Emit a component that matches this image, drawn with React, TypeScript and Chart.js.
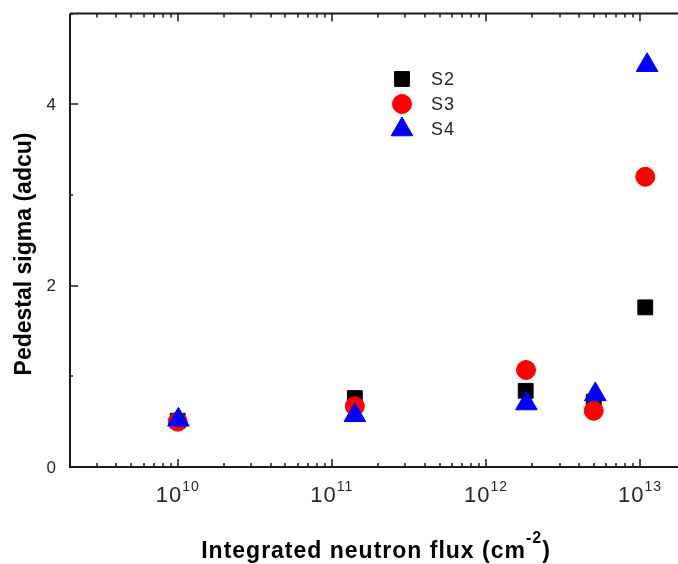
import React, { useEffect, useRef } from 'react';
import { Chart, registerables } from 'chart.js';
import { drawPoint } from 'chart.js/helpers';

Chart.register(...registerables);

// ---- data ----
const seriesNames = ['S2', 'S3', 'S4'];
const fluxS2 = [1.0e10, 1.41e11, 1.81e12, 5.0e12, 1.08e13];
const sigmaS2 = [0.51, 0.76, 0.84, 0.72, 1.76];
const fluxS3 = [1.0e10, 1.41e11, 1.82e12, 5.0e12, 1.08e13];
const sigmaS3 = [0.5, 0.67, 1.07, 0.62, 3.2];
const fluxS4 = [1.01e10, 1.41e11, 1.83e12, 5.12e12, 1.11e13];
const sigmaS4 = [0.52, 0.57, 0.7, 0.8, 4.43];

const xMajorExponents = [10, 11, 12, 13];
const xDecades = [9, 10, 11, 12, 13];
const xMinorMultipliers = [2, 3, 4, 5, 6, 7, 8, 9];
const yMajorTicks = [0, 2, 4];
const yMinorTicks = [1, 3, 5];

const xTitle = 'Integrated neutron flux (cm';
const xTitleSup = '-2';
const yTitle = 'Pedestal sigma (adcu)';

const colors = ['#000000', '#ff0000', '#0000ff'];
const styles = ['rect', 'circle', 'triangle'];
const radii = [10.5, 9.5, 12.5];

const AXIS = '#1a1a1a';
const TEXT = '#262626';
const FONT = '"Liberation Sans", Arial, sans-serif';

const framePlugin = {
  id: 'frame',
  beforeDatasetsDraw(chart: any) {
    const { ctx, chartArea: a, scales } = chart;
    const xs = scales.x;
    const ys = scales.y;
    ctx.save();
    ctx.strokeStyle = AXIS;
    ctx.lineWidth = 2;
    ctx.beginPath();
    ctx.moveTo(a.left, a.top);
    ctx.lineTo(a.left, a.bottom);
    ctx.lineTo(a.right, a.bottom);
    ctx.moveTo(a.left, a.top);
    ctx.lineTo(a.right, a.top);
    ctx.stroke();

    ctx.lineWidth = 1.5;
    ctx.beginPath();
    for (const e of xDecades) {
      const vals = [{ v: Math.pow(10, e), major: true }, ...xMinorMultipliers.map((m) => ({ v: m * Math.pow(10, e), major: false }))];
      for (const { v, major } of vals) {
        if (v <= xs.min || v >= xs.max) continue;
        const px = Math.round(xs.getPixelForValue(v));
        const len = major ? 8 : 4;
        ctx.moveTo(px, a.bottom);
        ctx.lineTo(px, a.bottom - len);
        ctx.moveTo(px, a.top);
        ctx.lineTo(px, a.top + len);
      }
    }
    for (const v of yMajorTicks) {
      const py = Math.round(ys.getPixelForValue(v));
      ctx.moveTo(a.left, py);
      ctx.lineTo(a.left + 8, py);
    }
    for (const v of yMinorTicks) {
      const py = Math.round(ys.getPixelForValue(v));
      ctx.moveTo(a.left, py);
      ctx.lineTo(a.left + 3, py);
    }
    ctx.stroke();

    // y tick labels
    ctx.fillStyle = TEXT;
    ctx.font = `17px ${FONT}`;
    ctx.textAlign = 'right';
    ctx.textBaseline = 'middle';
    for (const v of yMajorTicks) {
      ctx.fillText(String(v), a.left - 14, ys.getPixelForValue(v) + 1);
    }

    // x tick labels: 10^n
    ctx.textBaseline = 'alphabetic';
    ctx.textAlign = 'left';
    const baseFont = `22px ${FONT}`;
    const supFont = `14px ${FONT}`;
    ctx.letterSpacing = '1px';
    for (const e of xMajorExponents) {
      const v = Math.pow(10, e);
      const px = xs.getPixelForValue(v);
      ctx.font = baseFont;
      const w1 = ctx.measureText('10').width;
      ctx.font = supFont;
      const w2 = ctx.measureText(String(e)).width;
      const x0 = px - (w1 + w2) / 2;
      ctx.font = baseFont;
      ctx.fillText('10', x0, a.bottom + 35);
      ctx.font = supFont;
      ctx.fillText(String(e), x0 + w1, a.bottom + 24);
    }

    // axis titles
    ctx.fillStyle = '#000';
    ctx.letterSpacing = '1px';
    const tf = `bold 23px ${FONT}`;
    const sf = `bold 16px ${FONT}`;
    ctx.font = tf;
    const tw = ctx.measureText(xTitle).width;
    ctx.font = sf;
    const sw = ctx.measureText(xTitleSup).width;
    ctx.font = tf;
    const pw = ctx.measureText(')').width;
    const total = tw + sw + pw;
    const cx = 376;
    let tx = cx - total / 2;
    ctx.textAlign = 'left';
    ctx.textBaseline = 'alphabetic';
    ctx.fillText(xTitle, tx, 558);
    tx += tw;
    ctx.font = sf;
    ctx.fillText(xTitleSup, tx, 543);
    tx += sw;
    ctx.font = tf;
    ctx.fillText(')', tx, 558);

    ctx.letterSpacing = '0px';
    ctx.save();
    ctx.translate(25, 254);
    ctx.rotate(-Math.PI / 2);
    ctx.textAlign = 'center';
    ctx.textBaseline = 'middle';
    ctx.font = tf;
    ctx.fillText(yTitle, 0, 0);
    ctx.restore();

    ctx.restore();
  },
  afterDatasetsDraw(chart: any) {
    const { ctx } = chart;
    ctx.save();
    const lx = 402;
    const ly = [79, 104, 129.5];
    chart.data.datasets.forEach((ds: any, i: number) => {
      ctx.fillStyle = ds.backgroundColor;
      ctx.strokeStyle = ds.borderColor;
      ctx.lineWidth = ds.borderWidth;
      drawPoint(ctx, { pointStyle: ds.pointStyle, radius: ds.pointRadius, borderWidth: ds.borderWidth, rotation: 0 }, lx, ly[i]);
      ctx.fillStyle = TEXT;
      ctx.font = `18px ${FONT}`;
      ctx.letterSpacing = '1px';
      ctx.textAlign = 'left';
      ctx.textBaseline = 'middle';
      ctx.fillText(ds.label, 431, [80, 105, 130][i]);
    });
    ctx.restore();
  },
};

export default function App() {
  const ref = useRef<HTMLCanvasElement>(null);
  useEffect(() => {
    if (!ref.current) return;
    const xsArr = [fluxS2, fluxS3, fluxS4];
    const ysArr = [sigmaS2, sigmaS3, sigmaS4];
    const chart = new Chart(ref.current, {
      type: 'scatter',
      data: {
        datasets: seriesNames.map((name, i) => ({
          label: name,
          data: xsArr[i].map((x, j) => ({ x, y: ysArr[i][j] })),
          backgroundColor: colors[i],
          borderColor: colors[i],
          borderWidth: 1,
          pointStyle: styles[i] as any,
          pointRadius: radii[i],
          order: 3 - i,
          clip: false as any,
        })),
      },
      options: {
        responsive: false,
        animation: false,
        devicePixelRatio: 1,
        layout: { padding: { left: 70, top: 9, right: 12, bottom: 97 } },
        plugins: { legend: { display: false }, tooltip: { enabled: false } },
        scales: {
          x: { type: 'logarithmic', min: 2e9, max: 2e13, display: false },
          y: { type: 'linear', min: 0, max: 5, display: false },
        },
      },
      plugins: [framePlugin],
    });
    return () => chart.destroy();
  }, []);
  return (
    <div style={{ position: 'fixed', left: 0, top: 0, width: 678, height: 564, overflow: 'hidden', background: '#fff' }}>
      <canvas ref={ref} width={700} height={564} style={{ display: 'block' }} />
    </div>
  );
}
